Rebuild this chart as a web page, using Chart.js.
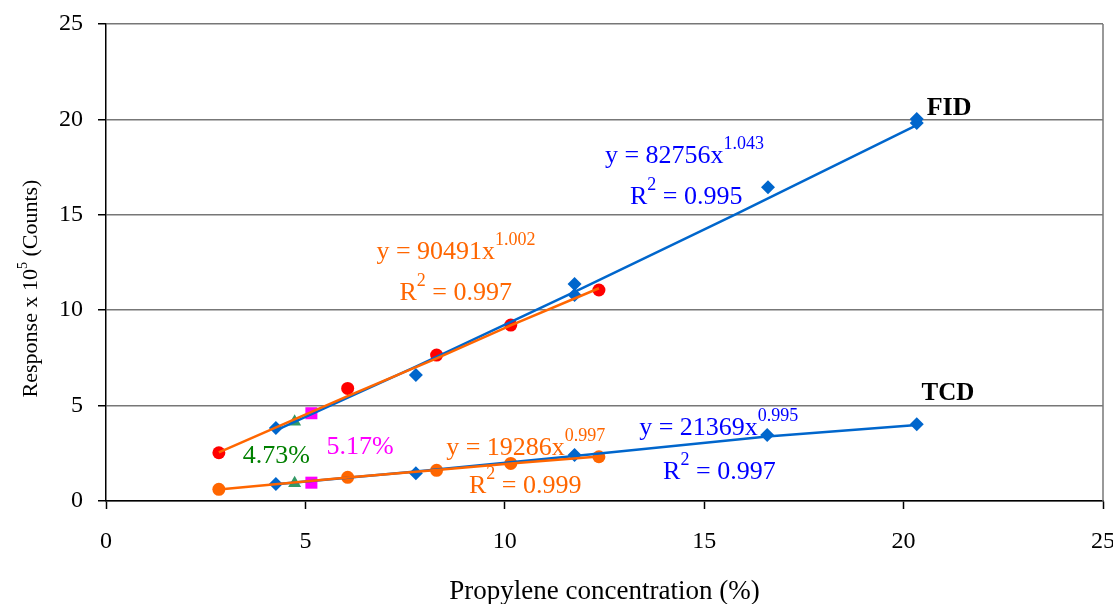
<!DOCTYPE html>
<html>
<head>
<meta charset="utf-8">
<script src="https://cdn.jsdelivr.net/npm/chart.js@4.4.1/dist/chart.umd.min.js"></script>
<style>
  html, body { margin: 0; padding: 0; background: #fff; }
  canvas { display: block; }
</style>
</head>
<body>
<canvas id="c" width="1113" height="604"></canvas>
<script>
// FID response, blue diamonds
var fidConc = [4.26, 7.77, 11.75, 11.75, 16.6, 20.33, 20.33];
var fidResp = [3.83, 6.6, 11.37, 10.8, 16.44, 20.02, 19.81];
// FID response, red circles
var fidRedConc = [2.83, 6.06, 8.29, 10.15, 12.36];
var fidRedResp = [2.53, 5.9, 7.65, 9.22, 11.06];
// TCD response, blue diamonds
var tcdConc = [4.26, 7.77, 11.75, 16.58, 20.33];
var tcdResp = [0.89, 1.45, 2.41, 3.46, 4.02];
// TCD response, orange circles
var tcdOrgConc = [2.83, 6.06, 8.29, 10.15, 12.36];
var tcdOrgResp = [0.61, 1.24, 1.61, 1.97, 2.32];
// single samples (4.73 % and 5.17 %)
var triConc = [4.73, 4.73];
var triResp = [4.16, 0.93];
var sqConc = [5.15, 5.15];
var sqResp = [4.6, 0.96];
// trend lines
var fidFitBlueX = [4.26, 7.77, 11.75, 15.76, 20.33];
var fidFitBlueY = [3.7, 7.04, 10.96, 15.0, 19.7];
var fidFitOrgX = [2.83, 6.06, 8.29, 10.15, 12.36];
var fidFitOrgY = [2.55, 5.5, 7.48, 9.2, 11.15];
var tcdFitBlueX = [4.26, 7.77, 11.75, 16.58, 20.33];
var tcdFitBlueY = [0.88, 1.54, 2.36, 3.38, 3.98];
var tcdFitOrgX = [2.83, 6.06, 8.29, 10.15, 12.36];
var tcdFitOrgY = [0.6, 1.23, 1.63, 1.97, 2.33];
var axisTicks = [0, 5, 10, 15, 20, 25];

var SERIF = '"Liberation Serif", "Times New Roman", serif';
var BLUE = '#0066CC', ORANGE = '#FF6600';

function pts(xs, ys) {
    return xs.map(function (x, i) { return {x: x, y: ys[i]}; });
}

// text notes: parts are [text, isSuperscript]
var notes = [
    {parts: [['y = 82756x'], ['1.043', 1]], x: 12.51, y: 17.74, color: '#0000FF'},
    {parts: [['R'], ['2', 1], [' = 0.995']], x: 13.14, y: 15.57, color: '#0000FF'},
    {parts: [['y = 90491x'], ['1.002', 1]], x: 6.78, y: 12.68, color: ORANGE},
    {parts: [['R'], ['2', 1], [' = 0.997']], x: 7.36, y: 10.56, color: ORANGE},
    {parts: [['y = 19286x'], ['0.997', 1]], x: 8.53, y: 2.41, color: ORANGE},
    {parts: [['R'], ['2', 1], [' = 0.999']], x: 9.1, y: 0.4, color: ORANGE},
    {parts: [['y = 21369x'], ['0.995', 1]], x: 13.37, y: 3.46, color: '#0000FF'},
    {parts: [['R'], ['2', 1], [' = 0.997']], x: 13.97, y: 1.14, color: '#0000FF'},
    {parts: [['4.73%']], x: 3.43, y: 1.98, color: '#008000'},
    {parts: [['5.17%']], x: 5.53, y: 2.45, color: '#FF00FF'},
    {parts: [['FID']], x: 20.58, y: 20.23, color: '#000', bold: 1, size: 26},
    {parts: [['TCD']], x: 20.45, y: 5.29, color: '#000', bold: 1, size: 25}
];

function drawParts(ctx, parts, x, y, size, supSize, raise, weight) {
    var cx = x;
    parts.forEach(function (p) {
        var fs = p[1] ? supSize : size;
        ctx.font = weight + ' ' + fs + 'px ' + SERIF;
        ctx.fillText(p[0], cx, p[1] ? y - raise : y);
        cx += ctx.measureText(p[0]).width;
    });
    return cx - x;
}

var notesPlugin = {
    id: 'notes',
    beforeDatasetsDraw: function (chart) {
        var ctx = chart.ctx, xs = chart.scales.x, ys = chart.scales.y;
        ctx.save();
        ctx.textBaseline = 'alphabetic';
        ctx.textAlign = 'left';
        notes.forEach(function (n) {
            ctx.fillStyle = n.color;
            drawParts(ctx, n.parts, xs.getPixelForValue(n.x), ys.getPixelForValue(n.y),
                n.size || 26, 18, 14, n.bold ? 'bold' : 'normal');
        });
        ctx.restore();
    },
    afterDraw: function (chart) {
        var ctx = chart.ctx, a = chart.chartArea;
        ctx.save();
        // plot area right border
        ctx.strokeStyle = '#777';
        ctx.lineWidth = 1.5;
        ctx.beginPath();
        ctx.moveTo(a.right, a.top);
        ctx.lineTo(a.right, a.bottom);
        ctx.stroke();
        // y axis title with superscript
        var parts = [['Response x 10'], ['5', 1], [' (Counts)']];
        var w = 0;
        parts.forEach(function (p) {
            ctx.font = (p[1] ? 14 : 22) + 'px ' + SERIF;
            w += ctx.measureText(p[0]).width;
        });
        ctx.translate(37, (a.top + a.bottom) / 2 + 26);
        ctx.rotate(-Math.PI / 2);
        ctx.fillStyle = '#000';
        ctx.textBaseline = 'alphabetic';
        drawParts(ctx, parts, -w / 2, 0, 22, 14, 10, 'normal');
        ctx.restore();
    }
};

function markers(data, style, color, r) {
    return {
        type: 'scatter', data: data, pointStyle: style, pointRadius: r,
        backgroundColor: color, borderColor: color, borderWidth: 0,
        showLine: false, order: 10
    };
}

function fit(data, color, order) {
    return {
        type: 'scatter', data: data, showLine: true, borderColor: color,
        borderWidth: 2.5, pointRadius: 0, tension: 0, fill: false, order: order
    };
}

new Chart(document.getElementById('c'), {
    type: 'scatter',
    data: {
        datasets: [
            markers(pts(fidConc, fidResp), 'rectRot', BLUE, 7),
            markers(pts(fidRedConc, fidRedResp), 'circle', '#FF0000', 6.5),
            markers(pts(tcdConc, tcdResp), 'rectRot', BLUE, 7),
            markers(pts(tcdOrgConc, tcdOrgResp), 'circle', ORANGE, 6.5),
            markers(pts(triConc, triResp), 'triangle', '#339966', 7.5),
            markers(pts(sqConc, sqResp), 'rect', '#FF00FF', 8.5),
            fit(pts(fidFitBlueX, fidFitBlueY), BLUE, 3),
            fit(pts(tcdFitBlueX, tcdFitBlueY), BLUE, 3),
            fit(pts(fidFitOrgX, fidFitOrgY), ORANGE, 2),
            fit(pts(tcdFitOrgX, tcdFitOrgY), ORANGE, 2)
        ]
    },
    options: {
        responsive: false,
        animation: false,
        devicePixelRatio: 1,
        layout: {padding: {left: 0, right: 10, top: 24, bottom: 0}},
        plugins: {legend: {display: false}, tooltip: {enabled: false}},
        events: [],
        scales: {
            x: {
                type: 'linear', min: 0, max: 25,
                afterBuildTicks: function (s) { s.ticks = axisTicks.map(function (v) { return {value: v}; }); },
                afterFit: function (s) { s.height = 103; s.paddingRight = 0; s.paddingLeft = 0; },
                ticks: {color: '#000', font: {family: SERIF, size: 24}, padding: 18, maxRotation: 0},
                grid: {drawOnChartArea: false, drawTicks: true, tickLength: 8, tickColor: '#000', tickWidth: 1.5},
                border: {color: '#000', width: 1.5},
                title: {display: true, text: 'Propylene concentration (%)', color: '#000',
                    font: {family: SERIF, size: 27, lineHeight: 0.9}, padding: 0}
            },
            y: {
                type: 'linear', min: 0, max: 25,
                afterBuildTicks: function (s) { s.ticks = axisTicks.map(function (v) { return {value: v}; }); },
                afterFit: function (s) { s.width = 106; s.paddingTop = 0; s.paddingBottom = 0; },
                ticks: {color: '#000', font: {family: SERIF, size: 24}, padding: 15},
                grid: {color: '#777', lineWidth: 1.5, tickLength: 8, tickColor: '#000', tickWidth: 1.5},
                border: {color: '#000', width: 1.5}
            }
        }
    },
    plugins: [notesPlugin]
});
</script>
</body>
</html>
